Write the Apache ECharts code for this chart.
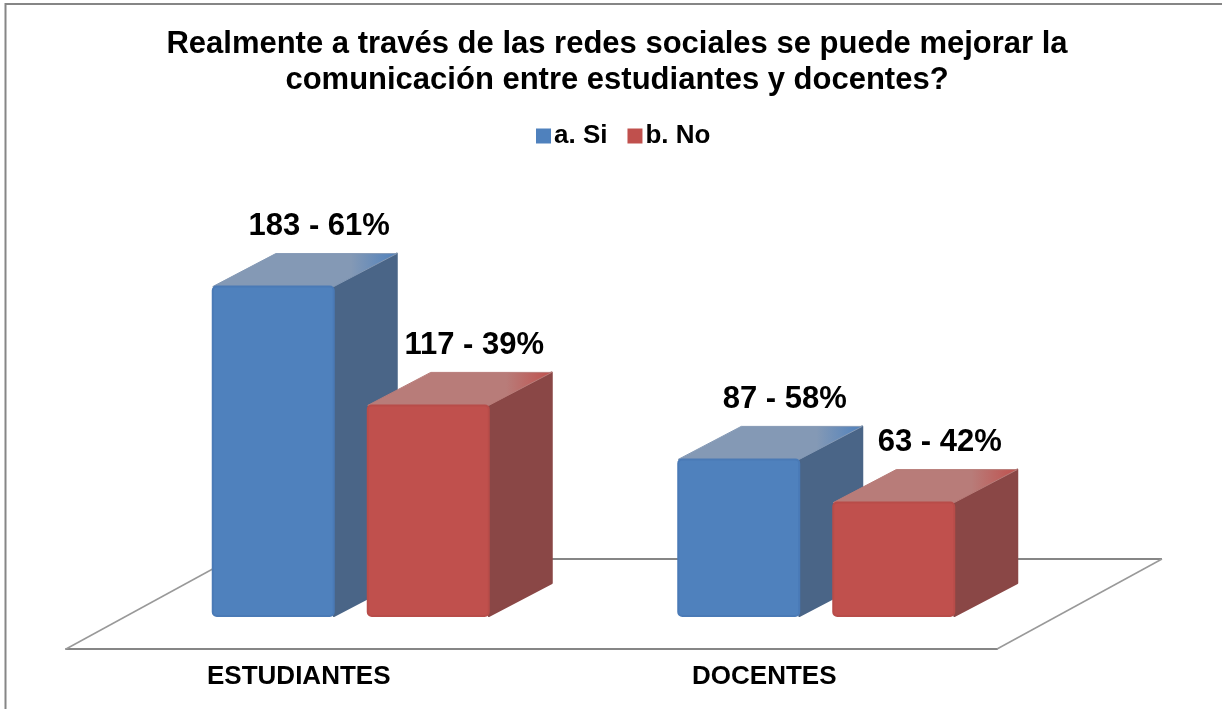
<!DOCTYPE html>
<html>
<head>
<meta charset="utf-8">
<title>Redes sociales</title>
<script src="https://cdn.jsdelivr.net/npm/echarts@6/dist/echarts.min.js"></script>
<style>
html,body{margin:0;padding:0;background:#fff;}
#container{width:1222px;height:709px;}
</style>
</head>
<body>
<div id="container"></div>
<script>
var categories=['ESTUDIANTES','DOCENTES'];
var siValues=[183,87];
var noValues=[117,63];
var siPercent=[61,58];
var noPercent=[39,42];

var FONT='"Liberation Sans", Arial, sans-serif';
var lineGray='#868686';
//profundidad de las barras y del piso
var depthX=63, depthY=33;
var floorX=165, floorY=90;
var baseX=51, baseY=33;
var barW=121;

function grad(c1,c2,c3){
	return new echarts.graphic.LinearGradient(0,0,1,0,[
		{offset:0,color:c1},{offset:0.75,color:c2},{offset:1,color:c3}
	]);
}

function makeBar(percent,shift,colors){
	return function(params,api){
		var idx=api.value(0);
		var val=api.value(1);
		var p0=api.coord([idx,0]);
		var p1=api.coord([idx,val]);
		var l=p0[0]+shift+baseX, r=l+barW;
		var b=p0[1]-baseY, t=p1[1]-baseY;
		return {
			type:'group',
			children:[
				{type:'polygon',shape:{points:[[r,b],[r+depthX,b-depthY],[r+depthX,t-depthY],[r,t]]},
					style:{fill:colors.side,stroke:colors.side,lineWidth:2,lineJoin:'round'}},
				{type:'polygon',shape:{points:[[l,t],[l+depthX,t-depthY],[r+depthX,t-depthY],[r,t]]},
					style:{fill:grad(colors.top,colors.top,colors.topEnd),stroke:colors.top,lineWidth:1,lineJoin:'round'}},
				{type:'rect',shape:{x:l,y:t,width:barW,height:b-t,r:4},
					style:{fill:colors.front,stroke:colors.edge,lineWidth:2}},
				{type:'text',x:(l+r)/2+46,y:t-60,
					style:{text:val+' - '+percent[idx]+'%',fill:'#000',font:'bold 31px '+FONT,align:'center',verticalAlign:'middle'}}
			]
		};
	};
}

var blue={front:'#4f81bd',edge:'#4a7ab6',side:'#4a6587',top:'#8499b5',topEnd:'#4f81bd'};
var red={front:'#c0504d',edge:'#b84c49',side:'#8a4746',top:'#b87c79',topEnd:'#c0504d'};

var option={
	animation:false,
	backgroundColor:'#fff',
	title:{
		text:'Realmente a través de las redes sociales se puede mejorar la\ncomunicación entre estudiantes y docentes?',
		left:612,
		top:21,
		textAlign:'center',
		textStyle:{fontFamily:FONT,fontWeight:'bold',fontSize:31,lineHeight:36,color:'#000'}
	},
	legend:{
		data:['a. Si','b. No'],
		left:531,
		top:118,
		itemWidth:15,
		itemHeight:15,
		itemGap:20,
		icon:'rect',
		textStyle:{fontFamily:FONT,fontWeight:'bold',fontSize:26,color:'#000',padding:[0,0,0,-2]}
	},
	grid:{left:66,top:199,width:931,height:450},
	xAxis:{
		type:'category',
		data:categories,
		axisLine:{show:true,lineStyle:{color:lineGray,width:2}},
		axisTick:{show:false},
		axisLabel:{fontFamily:FONT,fontWeight:'bold',fontSize:26,color:'#000',margin:15}
	},
	yAxis:{type:'value',min:0,max:250,show:false,splitLine:{show:false}},
	graphic:[{type:'polyline',z:-1,shape:{points:[[5.5,709],[5.5,4],[1222,4]]},style:{fill:'none',stroke:lineGray,lineWidth:2}}],
	series:[
		{
			//piso del grafico
			name:'piso',
			type:'custom',
			silent:true,
			z:1,
			data:[[0]],
			renderItem:function(params){
				var c=params.coordSys;
				var x0=c.x, x1=c.x+c.width, y0=c.y+c.height, y1=y0-floorY;
				return {
					type:'group',
					children:[
						{type:'line',shape:{x1:x0+floorX,y1:y1,x2:x1+floorX,y2:y1},style:{stroke:lineGray,lineWidth:2}},
						{type:'line',shape:{x1:x0,y1:y0,x2:x0+floorX,y2:y1},style:{stroke:'#999',lineWidth:1.5}},
						{type:'line',shape:{x1:x1,y1:y0,x2:x1+floorX,y2:y1},style:{stroke:'#999',lineWidth:1.5}}
					]
				};
			}
		},
		{
			name:'a. Si',
			type:'custom',
			z:2,
			itemStyle:{color:'#4f81bd'},
			data:siValues.map(function(v,i){return [i,v];}),
			encode:{x:0,y:1},
			renderItem:makeBar(siPercent,-137,blue)
		},
		{
			name:'b. No',
			type:'custom',
			z:3,
			itemStyle:{color:'#c0504d'},
			data:noValues.map(function(v,i){return [i,v];}),
			encode:{x:0,y:1},
			renderItem:makeBar(noPercent,18,red)
		}
	]
};

var mychart=echarts.init(document.getElementById('container'));
mychart.setOption(option);
</script>
</body>
</html>
